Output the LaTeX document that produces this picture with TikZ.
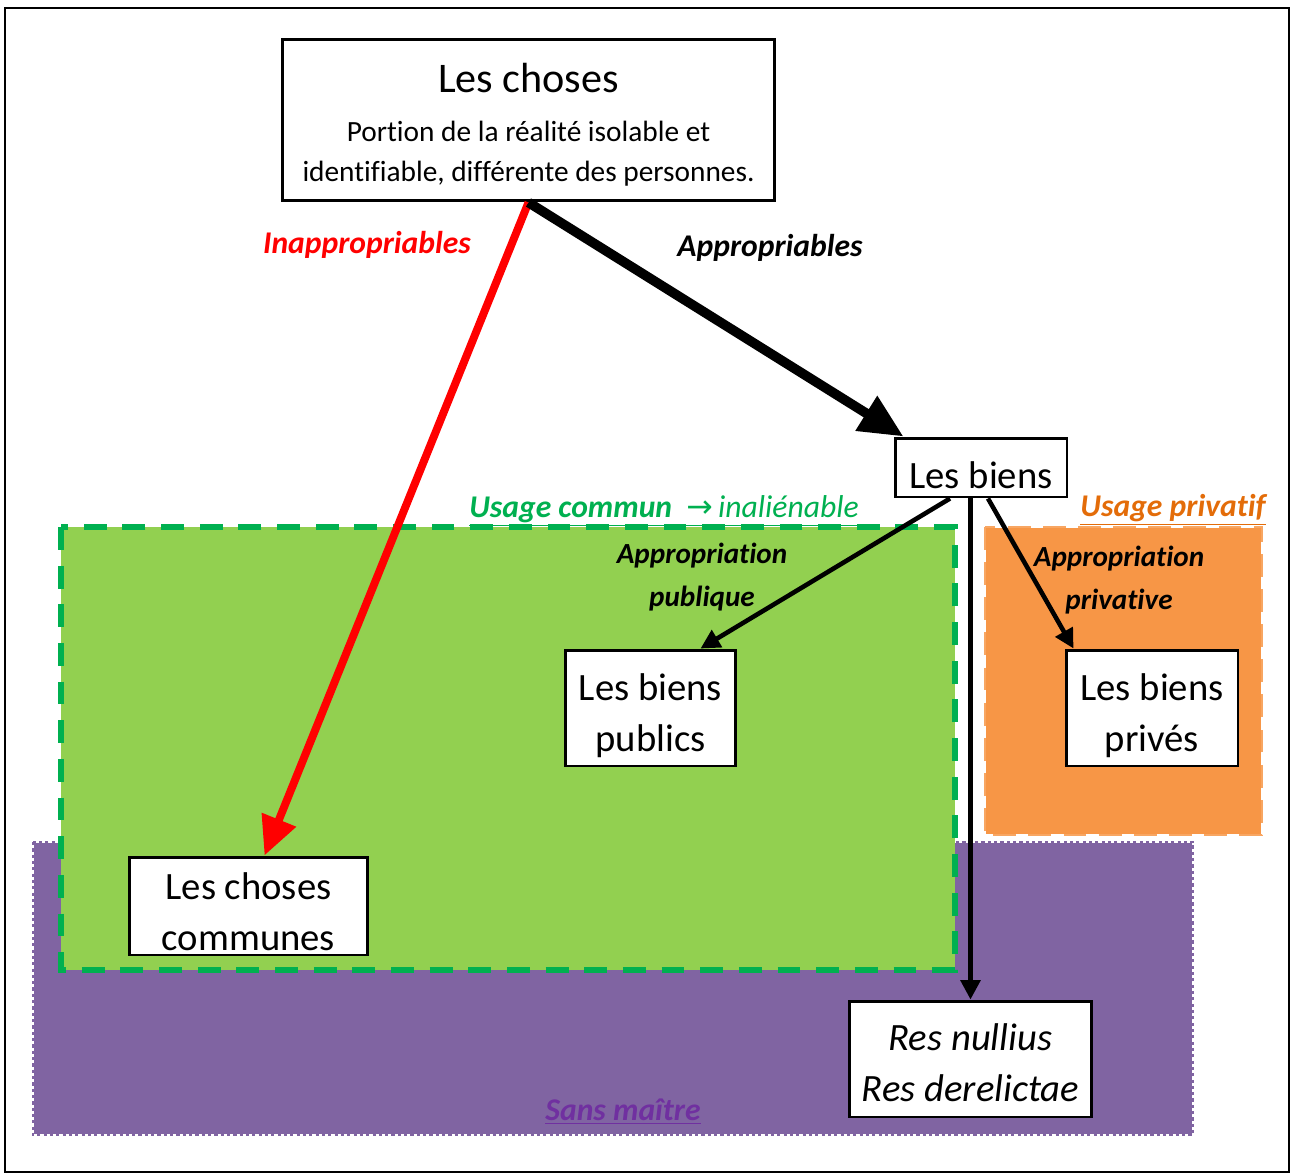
\documentclass[tikz,border=0pt]{standalone}
\usepackage{fontspec}
\setmainfont{Carlito}[Ligatures=CommonOff]
\newfontfamily\flechefont{DejaVu Sans}
\usepackage{tikz}
\usetikzlibrary{arrows.meta,positioning}

\definecolor{vertfond}{HTML}{92D050}
\definecolor{vertbord}{HTML}{00B050}
\definecolor{orangefond}{HTML}{F79646}
\definecolor{orangetexte}{HTML}{E36C09}
\definecolor{violetfond}{HTML}{8064A2}
\definecolor{violettexte}{HTML}{7030A0}

\newcommand{\haut}[1]{\rule{0pt}{#1}}

\tikzset{
  boite/.style={draw, line width=1.7pt, fill=white, align=center, inner sep=0pt,
                font=\fontsize{22}{29}\selectfont},
  etiquette/.style={align=center, font=\fontsize{18}{24}\selectfont\bfseries\itshape},
  fleche/.style={line width=2.6pt, -{Triangle[length=11pt,width=11pt]}},
}

\begin{document}
\begin{tikzpicture}[x=0.02cm, y=-0.02cm]
      \useasboundingbox (0, 0) rectangle (1292, 1174);
      \draw [line width=1.2pt] (5, 8) rectangle (1289, 1172);
      % zones
      \fill [violetfond] (33, 842) rectangle (1193, 1135);
      \draw [white, line width=1.4pt] (33, 842) rectangle (1193, 1135);
      \draw [violetfond, line width=1.4pt, dash pattern=on 1.8pt off 1.8pt] (33, 842) rectangle (1193, 1135);
      \fill [vertfond] (61, 527) rectangle (955, 970);
      \draw [vertbord, line width=3pt, dash pattern=on 13pt off 9pt] (61, 527) rectangle (955, 970);
      \fill [orangefond] (985, 527) rectangle (1262, 835);
      \draw [white, line width=1.6pt] (985, 527) rectangle (1262, 835);
      \draw [orangefond!85!white, line width=1.6pt, dash pattern=on 13pt off 7pt] (985, 527) rectangle (1262, 835);
      % boites
      \node (choses) [boite, minimum width=9.86cm, minimum height=3.24cm,
                      font=\fontsize{16.7}{22.7}\selectfont] at (528.5, 120)
            {\haut{22pt}{\fontsize{24}{30}\selectfont Les choses}\\[5pt]
             Portion de la réalité isolable et\\
             identifiable, différente des personnes.};
      \node (biens) [boite, minimum width=3.44cm, minimum height=1.18cm] at (981, 467.5)
            {\haut{24.5pt}Les biens};
      \node (publics) [boite, minimum width=3.42cm, minimum height=2.32cm] at (650.5, 708)
            {\haut{24pt}Les biens\\publics};
      \node (prives) [boite, minimum width=3.44cm, minimum height=2.32cm] at (1152, 708)
            {\haut{24pt}Les biens\\privés};
      \node (communes) [boite, minimum width=4.78cm, minimum height=1.96cm] at (248.5, 906)
            {\haut{21.5pt}Les choses\\communes};
      \node (res) [boite, minimum width=4.86cm, minimum height=2.32cm] at (970.5, 1059)
            {\haut{20pt}\itshape Res nullius\\\itshape Res derelictae};
      % fleches
      \draw [red, line width=4.5pt, -{Triangle[length=22pt,width=20pt]}]
            (choses.south) -- ([xshift=0.32cm]communes.north);
      \draw [line width=5.5pt, -{Triangle[length=25pt,width=22pt]}]
            (choses.south) -- ([xshift=0.2cm]biens.north west);
      \draw [fleche] ([xshift=-0.62cm]biens.south) -- ([xshift=1cm]publics.north);
      \draw [fleche] ([xshift=0.14cm]biens.south) -- ([xshift=0.18cm]prives.north west);
      \draw [fleche] (biens.south -| res.north) -- (res.north);
      % etiquettes
      \node (inappr) [etiquette, red] at (367, 245) {Inappropriables};
      \node (appr) [etiquette] at (770, 248) {Appropriables};
      \node (publique) [etiquette, font=\fontsize{16.6}{24}\selectfont\bfseries\itshape] at (702, 577)
            {Appropriation\\publique};
      \node (privative) [etiquette, font=\fontsize{16.6}{24}\selectfont\bfseries\itshape] at (1119, 580)
            {Appropriation\\privative};
      \node (commun) [etiquette, vertbord] at (664, 511)
            {\underline{Usage commun~~{\mdseries\flechefont\fontsize{18}{20}\selectfont →}\,{\mdseries inaliénable}}};
      \node (privatif) [etiquette, orangetexte] at (1173, 510) {\underline{Usage privatif}};
      \node (sansmaitre) [etiquette, violettexte] at (623, 1112) {\underline{Sans maître}};
\end{tikzpicture}
\end{document}
